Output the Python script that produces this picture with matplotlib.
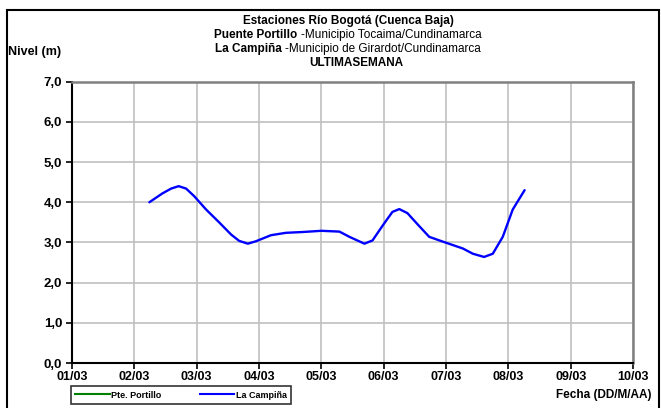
import matplotlib
matplotlib.use("Agg")
import matplotlib.pyplot as plt
from matplotlib.patches import Rectangle
from matplotlib.lines import Line2D

plt.rcParams['font.family'] = ['Liberation Sans', 'DejaVu Sans']

# dias desde 01/03 y nivel (m) de La Campiña
dias_campina = [1.24, 1.45, 1.59, 1.71, 1.83, 1.96, 2.15, 2.36, 2.55, 2.68,
                2.82, 2.95, 3.19, 3.43, 3.70, 4.00, 4.29, 4.45, 4.69, 4.82,
                5.01, 5.14, 5.25, 5.38, 5.55, 5.73, 5.95, 6.27, 6.43, 6.61,
                6.75, 6.91, 7.07, 7.26]
nivel_campina = [4.00, 4.22, 4.34, 4.40, 4.34, 4.15, 3.82, 3.50, 3.20, 3.04,
                 2.97, 3.03, 3.18, 3.24, 3.26, 3.29, 3.27, 3.14, 2.97, 3.05,
                 3.48, 3.76, 3.83, 3.73, 3.44, 3.14, 3.02, 2.85, 2.72, 2.64,
                 2.72, 3.14, 3.82, 4.30]
# Pte. Portillo sin datos
dias_portillo = []
nivel_portillo = []

fechas = ['01/03', '02/03', '03/03', '04/03', '05/03', '06/03', '07/03',
          '08/03', '09/03', '10/03']
yticks = [0, 1, 2, 3, 4, 5, 6, 7]
ylabels = ['0,0', '1,0', '2,0', '3,0', '4,0', '5,0', '6,0', '7,0']

fig = plt.figure(figsize=(6.61, 4.08), dpi=100)
ax = fig.add_axes([0.109, 0.110, 0.8487, 0.690])

ax.plot(dias_portillo, nivel_portillo, color='#008000', lw=1.5)
ax.plot(dias_campina, nivel_campina, color='#0000ff', lw=1.7,
        solid_joinstyle='round', solid_capstyle='round')

ax.set_xlim(0, 9)
ax.set_ylim(0, 7)
ax.set_xticks(range(len(fechas)))
ax.set_xticklabels(fechas, fontsize=9, fontweight='bold')
ax.set_yticks(yticks)
ax.set_yticklabels(ylabels, fontsize=9.5, fontweight='bold')
ax.tick_params(direction='out', length=4, width=1.2, pad=2)
ax.tick_params(axis='y', pad=3)
ax.grid(True, color='#c0c0c0', lw=1.2)
ax.set_axisbelow(True)
for s in ['left', 'bottom']:
    ax.spines[s].set_linewidth(1.5)
    ax.spines[s].set_color('black')
for s in ['top', 'right']:
    ax.spines[s].set_linewidth(1.8)
    ax.spines[s].set_color('#808080')

cx = 348 / 661
renderer = fig.canvas.get_renderer()


def titulo_mixto(y, negrita, normal):
    # parte en negrita + parte normal, centradas juntas
    t1 = fig.text(0, y, negrita, ha='left', va='center', fontsize=8.5,
                  fontweight='bold')
    t2 = fig.text(0, y, normal, ha='left', va='center', fontsize=8.5)
    w1 = t1.get_window_extent(renderer).width / fig.bbox.width
    w2 = t2.get_window_extent(renderer).width / fig.bbox.width
    x0 = cx - (w1 + w2) / 2
    t1.set_x(x0)
    t2.set_x(x0 + w1)


fig.text(cx, 1 - 21 / 408, 'Estaciones Río Bogotá (Cuenca Baja)', ha='center',
         va='center', fontsize=8.5, fontweight='bold')
titulo_mixto(1 - 35 / 408, 'Puente Portillo ', '-Municipio Tocaima/Cundinamarca')
titulo_mixto(1 - 49 / 408, 'La Campiña ', '-Municipio de Girardot/Cundinamarca')
fig.text(356 / 661, 1 - 63 / 408, 'ULTIMASEMANA', ha='center', va='center',
         fontsize=8.5, fontweight='bold')
fig.text(8 / 661, 1 - 52 / 408, 'Nivel (m)', ha='left', va='center',
         fontsize=9, fontweight='bold')
fig.text(651 / 661, 1 - 395 / 408, 'Fecha (DD/M/AA)', ha='right', va='center',
         fontsize=8.5, fontweight='bold')

# leyenda
handles = [Line2D([], [], color='#008000', lw=1.5),
           Line2D([], [], color='#0000ff', lw=1.5)]
leg = fig.legend(handles, ['Pte. Portillo', 'La Campiña'], ncol=2,
                 loc='center', bbox_to_anchor=(181 / 661, 1 - 395 / 408),
                 prop={'size': 6.5, 'weight': 'bold'}, frameon=True,
                 fancybox=False, handlelength=3.8, handletextpad=0.2,
                 columnspacing=4.2, borderpad=0.45, borderaxespad=0,
                 handleheight=0.6)
leg.get_frame().set_edgecolor('black')
leg.get_frame().set_linewidth(1.2)
leg.get_frame().set_boxstyle('square', pad=0)

fig.patches.append(Rectangle((7 / 661, -0.05), 652 / 661, 1.05 - 10 / 408,
                             transform=fig.transFigure, fill=False,
                             edgecolor='black', lw=1.5))

fig.savefig('out.png', dpi=100)
